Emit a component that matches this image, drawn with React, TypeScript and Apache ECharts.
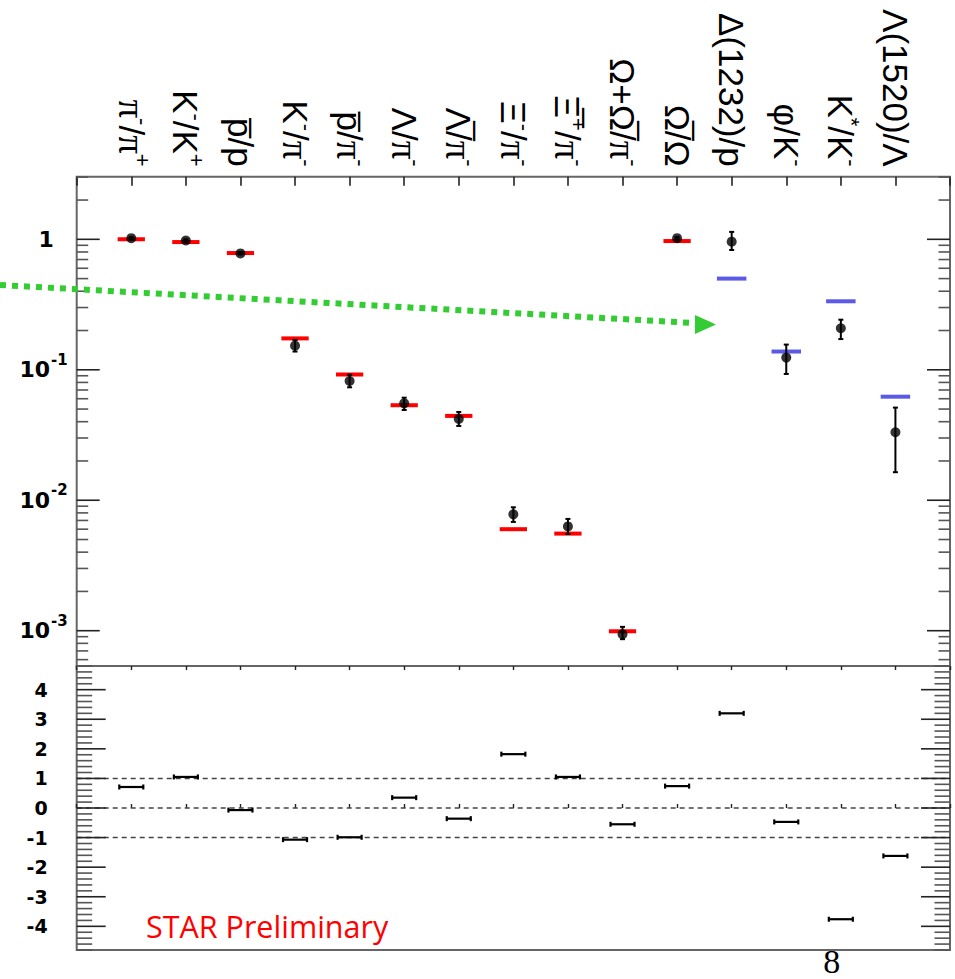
import React, { useEffect, useRef } from "react";
import * as echarts from "echarts";

// ---------- data ----------
const categoryIndex = [1, 2, 3, 4, 5, 6, 7, 8, 9, 10, 11, 12, 13, 14, 15];
const categoryLabels = [
  "{p|π}{s|-}{n|/}{p|π}{s|+}",
  "{n|K}{s|-}{n|/K}{s|+}",
  "{n|p\u0305/p}",
  "{n|K}{s|-}{n|/}{p|π}{s|-}",
  "{n|p\u0305/}{p|π}{s|-}",
  "{n|Λ/}{p|π}{s|-}",
  "{n|Λ\u0305/}{p|π}{s|-}",
  "{n|Ξ}{s|-}{n|/}{p|π}{s|-}",
  "{n|Ξ\u0305}{s|+}{n|/}{p|π}{s|-}",
  "{n|Ω+Ω\u0305/}{p|π}{s|-}",
  "{n|Ω\u0305/Ω}",
  "{n|Δ(1232)/p}",
  "{n|φ/K}{s|-}",
  "{n|K}{s|*}{n|/K}{s|-}",
  "{n|Λ(1520)/Λ}",
];

// measured ratios (black points) with error-bar limits
const measured = [1.02, 0.98, 0.78, 0.153, 0.082, 0.0553, 0.042, 0.0078, 0.0063, 0.00094, 1.02, 0.96, 0.124, 0.208, 0.0332];
const measuredLow = [1.0, 0.96, 0.765, 0.138, 0.0734, 0.0492, 0.0371, 0.00682, 0.00552, 0.000861, 1.0, 0.828, 0.0929, 0.172, 0.0164];
const measuredHigh = [1.04, 1.0, 0.795, 0.169, 0.0917, 0.0611, 0.0475, 0.00883, 0.00719, 0.00107, 1.04, 1.14, 0.156, 0.242, 0.0513];

// thermal-model values (red: stable particles, blue: resonances)
const modelStableX = [1, 2, 3, 4, 5, 6, 7, 8, 9, 10, 11];
const modelStable = [1.0, 0.953, 0.785, 0.174, 0.092, 0.0535, 0.0443, 0.006, 0.00555, 0.00099, 0.97];
const modelResonanceX = [12, 13, 14, 15];
const modelResonance = [0.5, 0.138, 0.335, 0.0622];

// deviation (data - model)/sigma
const deviation = [0.71, 1.05, -0.07, -1.07, -0.99, 0.35, -0.36, 1.82, 1.05, -0.55, 0.74, 3.2, -0.47, -3.76, -1.62];

// axis ranges / ticks
const logMin = 5.363e-4;
const logMax = 3.02;
const logMajorTicks = [0.001, 0.01, 0.1, 1];
const devMin = -4.8;
const devMax = 4.8;
const devMajorTicks = [-4, -3, -2, -1, 0, 1, 2, 3, 4];
const devReferenceLines = [1, 0, -1];

const logMinorTicks: number[] = [];
for (const d of [0.0001, 0.001, 0.01, 0.1, 1]) {
  for (let m = 2; m <= 9; m++) {
    const v = +(m * d).toPrecision(3);
    if (v > logMin && v < logMax) logMinorTicks.push(v);
  }
}
const devMinorTicks: number[] = [];
for (let k = -24; k <= 24; k++) {
  if (k % 5 !== 0) devMinorTicks.push(+(k * 0.2).toFixed(1));
}

const SANS = "Liberation Sans";
const BOLD = "DejaVu Sans";

export default function App() {
  const ref = useRef<HTMLDivElement>(null);
  useEffect(() => {
    if (!ref.current) return;
    const chart = echarts.init(ref.current, undefined, { renderer: "svg" });

    const gridLeft = 76.7;
    const gridWidth = 873.3;

    const yTickSeries = (xAxisIndex: number, yAxisIndex: number, majors: number[], minors: number[], majLen: number, minLen: number) => ({
      type: "custom",
      xAxisIndex,
      yAxisIndex,
      silent: true,
      clip: false,
      z: 5,
      data: [...majors.map((v) => [0, v, 1]), ...minors.map((v) => [0, v, 0])],
      renderItem: (params: any, api: any) => {
        const v = api.value(1);
        const maj = api.value(2) === 1;
        const pL = api.coord([0, v]);
        const pR = api.coord([16, v]);
        const len = maj ? majLen : minLen;
        const style = { stroke: maj ? "#222" : "#555", lineWidth: 1.6 };
        return {
          type: "group",
          children: [
            { type: "line", shape: { x1: pL[0], y1: pL[1], x2: pL[0] + len, y2: pL[1] }, style },
            { type: "line", shape: { x1: pR[0] - len, y1: pR[1], x2: pR[0], y2: pR[1] }, style },
          ],
        };
      },
    });

    const modelBar = (xs: number[], ys: number[], color: string, halfW: number) => ({
      type: "custom",
      xAxisIndex: 0,
      yAxisIndex: 0,
      z: 3,
      data: xs.map((x, i) => [x, ys[i]]),
      renderItem: (params: any, api: any) => {
        const a = api.coord([api.value(0) - halfW, api.value(1)]);
        const b = api.coord([api.value(0) + halfW, api.value(1)]);
        return { type: "rect", shape: { x: a[0], y: a[1] - 2, width: b[0] - a[0], height: 4 }, style: { fill: color } };
      },
    });

    const option: any = {
      animation: false,
      textStyle: { fontFamily: SANS },
      grid: [
        { left: gridLeft, top: 176.7, width: gridWidth, height: 489.3, show: true, borderColor: "#666", borderWidth: 2, backgroundColor: "transparent" },
        { left: gridLeft, top: 666, width: gridWidth, height: 284, show: true, borderColor: "#666", borderWidth: 2, backgroundColor: "transparent" },
      ],
      xAxis: [
        { gridIndex: 0, type: "value", min: 0, max: 16, show: false, splitLine: { show: false } },
        {
          gridIndex: 0,
          type: "value",
          position: "top",
          min: 0,
          max: 16,
          interval: 1,
          axisLine: { show: false },
          splitLine: { show: false },
          axisTick: { show: true, inside: true, length: 9, lineStyle: { color: "#222", width: 1.6 } },
          axisLabel: {
            show: true,
            rotate: 90,
            margin: 10,
            formatter: (v: number) => {
              const i = categoryIndex.indexOf(Math.round(v));
              return i >= 0 && Math.abs(v - Math.round(v)) < 1e-6 ? categoryLabels[i] : "";
            },
            rich: {
              n: { fontFamily: SANS, fontSize: 35, color: "#000" },
              p: { fontFamily: "Liberation Serif", fontSize: 37, color: "#000" },
              s: { fontFamily: SANS, fontSize: 22, color: "#000", padding: [0, 0, 22, 0] },
            },
          },
        },
        {
          gridIndex: 1,
          type: "value",
          min: 0,
          max: 16,
          interval: 1,
          axisLine: { show: false },
          splitLine: { show: false },
          axisLabel: { show: false },
          axisTick: { show: true, inside: true, length: 4, lineStyle: { color: "#222", width: 1.4 } },
        },
        {
          gridIndex: 1,
          type: "value",
          position: "top",
          min: 0,
          max: 16,
          interval: 1,
          axisLine: { show: false },
          splitLine: { show: false },
          axisLabel: { show: false },
          axisTick: { show: true, inside: true, length: 4, lineStyle: { color: "#222", width: 1.4 } },
        },
      ],
      yAxis: [
        {
          gridIndex: 0,
          type: "log",
          logBase: 10,
          min: logMin,
          max: logMax,
          axisLine: { show: false },
          axisTick: { show: false },
          splitLine: { show: false },
          axisLabel: {
            margin: 9,
            showMinLabel: false,
            showMaxLabel: false,
            formatter: (v: number) => {
              const e = Math.round(Math.log10(v));
              if (Math.abs(Math.log10(v) - e) > 1e-6) return "";
              if (e === 0) return "{one|1}";
              return `{b|10}{e|${e}}`;
            },
            rich: {
              one: { fontFamily: BOLD, fontWeight: "bold", fontSize: 22, color: "#000", padding: [0, 14, 0, 0] },
              b: { fontFamily: BOLD, fontWeight: "bold", fontSize: 22, color: "#000" },
              e: { fontFamily: BOLD, fontWeight: "bold", fontSize: 15, color: "#000", padding: [0, 0, 20, 1] },
            },
          },
        },
        {
          gridIndex: 1,
          type: "value",
          min: devMin,
          max: devMax,
          splitNumber: 10,
          minInterval: 1,
          maxInterval: 1,
          axisLine: { show: false },
          axisTick: { show: false },
          splitLine: { show: false },
          axisLabel: {
            margin: 29,
            showMinLabel: false,
            showMaxLabel: false,
            fontFamily: BOLD,
            fontWeight: "bold",
            fontSize: 19,
            color: "#000",
            formatter: (v: number) => (devMajorTicks.includes(v) ? String(v) : ""),
          },
        },
      ],
      series: [
        yTickSeries(0, 0, logMajorTicks, logMinorTicks, 23, 11.5),
        yTickSeries(2, 1, devMajorTicks, devMinorTicks, 29, 15.5),
        modelBar(modelStableX, modelStable, "#ff0000", 0.25),
        modelBar(modelResonanceX, modelResonance, "#5a5ae6", 0.27),
        {
          type: "custom",
          xAxisIndex: 0,
          yAxisIndex: 0,
          z: 4,
          data: categoryIndex.map((x, i) => [x, measured[i], measuredLow[i], measuredHigh[i]]),
          renderItem: (params: any, api: any) => {
            const x = api.value(0);
            const lo = api.coord([x, api.value(2)]);
            const hi = api.coord([x, api.value(3)]);
            const style = { stroke: "#000", lineWidth: 2 };
            return {
              type: "group",
              children: [
                { type: "line", shape: { x1: lo[0], y1: lo[1], x2: hi[0], y2: hi[1] }, style },
                { type: "line", shape: { x1: lo[0] - 2.5, y1: lo[1], x2: lo[0] + 2.5, y2: lo[1] }, style },
                { type: "line", shape: { x1: hi[0] - 2.5, y1: hi[1], x2: hi[0] + 2.5, y2: hi[1] }, style },
              ],
            };
          },
        },
        {
          type: "scatter",
          xAxisIndex: 0,
          yAxisIndex: 0,
          z: 6,
          symbol: "circle",
          symbolSize: 10,
          itemStyle: { color: "#000" },
          data: categoryIndex.map((x, i) => [x, measured[i]]),
        },
        ...devReferenceLines.map((y) => ({
          type: "line",
          xAxisIndex: 2,
          yAxisIndex: 1,
          symbol: "none",
          silent: true,
          z: 2,
          lineStyle: { color: "#444", width: 1.5, type: [5, 4] },
          data: [
            [0, y],
            [16, y],
          ],
        })),
        {
          type: "custom",
          xAxisIndex: 2,
          yAxisIndex: 1,
          z: 4,
          data: categoryIndex.map((x, i) => [x, deviation[i]]),
          renderItem: (params: any, api: any) => {
            const a = api.coord([api.value(0) - 0.22, api.value(1)]);
            const b = api.coord([api.value(0) + 0.22, api.value(1)]);
            const style = { stroke: "#000", lineWidth: 2.2 };
            return {
              type: "group",
              children: [
                { type: "line", shape: { x1: a[0], y1: a[1], x2: b[0], y2: b[1] }, style },
                { type: "line", shape: { x1: a[0], y1: a[1] - 2.5, x2: a[0], y2: a[1] + 2.5 }, style },
                { type: "line", shape: { x1: b[0], y1: b[1] - 2.5, x2: b[0], y2: b[1] + 2.5 }, style },
              ],
            };
          },
        },
      ],
      graphic: [
        {
          type: "polyline",
          z: 10,
          silent: true,
          shape: { points: [[0, 285], [694, 323]] },
          style: { stroke: "#33cc33", lineWidth: 6, lineDash: [6, 6], fill: null },
        },
        {
          type: "polygon",
          z: 10,
          silent: true,
          shape: { points: [[695, 315], [716, 324.5], [695, 334]] },
          style: { fill: "#33cc33" },
        },
        {
          type: "text",
          z: 10,
          left: 146,
          top: 910,
          style: { text: "STAR Preliminary", fill: "#ff0000", font: "30.5px 'Open Sans'" },
        },
        {
          type: "text",
          z: 10,
          x: 831.7,
          y: 961.5,
          style: { text: "8", fill: "#000", font: "34px 'Liberation Serif'", align: "center", verticalAlign: "middle" },
        },
      ],
    };

    chart.setOption(option);
    return () => chart.dispose();
  }, []);

  return <div ref={ref} style={{ position: "absolute", left: 0, top: 0, width: 955, height: 979 }} />;
}
